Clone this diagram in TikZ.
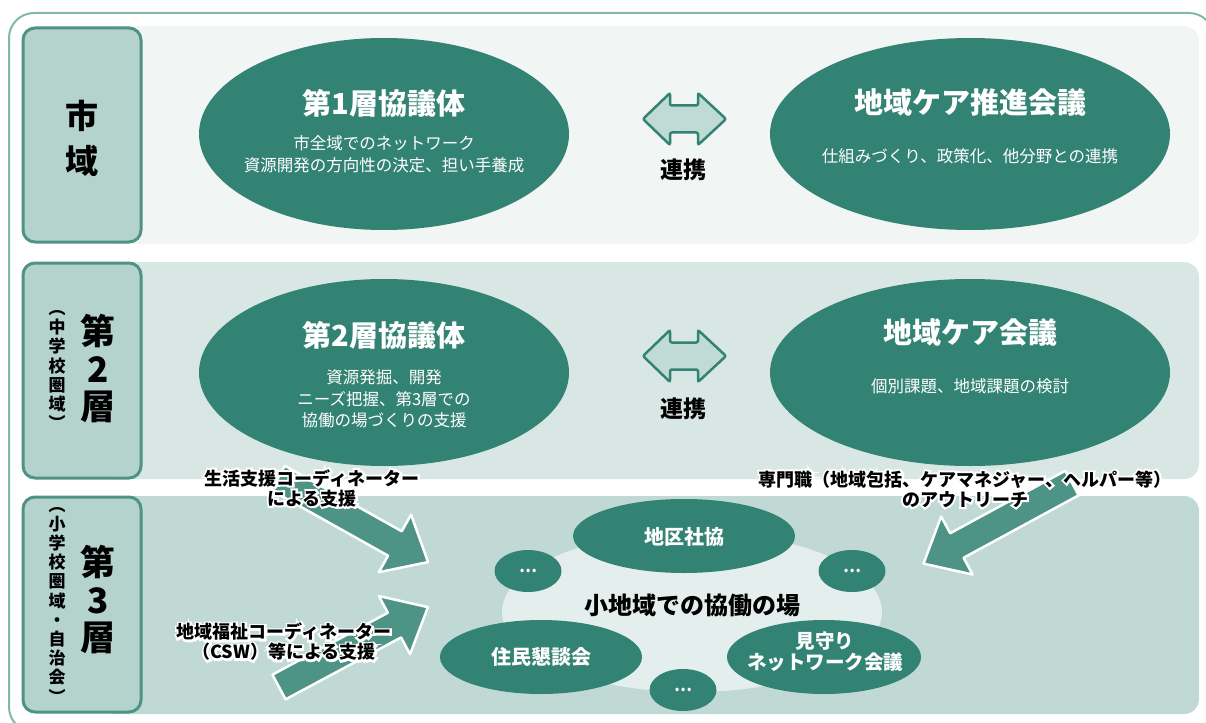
\documentclass[tikz,border=0pt]{standalone}
\usepackage{fontspec}
\setmainfont{Noto Sans CJK JP}
\newfontfamily\halofont{Noto Sans CJK JP}[BoldFeatures={FakeBold=22}]
\usetikzlibrary{calc,shapes.geometric}
\definecolor{dk}{HTML}{338374}
\definecolor{arw}{HTML}{4E9486}
\definecolor{lbf}{HTML}{B5D3CD}
\definecolor{lbd}{HTML}{4F9386}
\definecolor{rowa}{HTML}{F1F5F4}
\definecolor{rowb}{HTML}{D9E7E4}
\definecolor{rowc}{HTML}{C0D9D4}
\definecolor{pale}{HTML}{E4EFED}
\definecolor{frm}{HTML}{7FB8AC}
\definecolor{darf}{HTML}{C0DAD5}
\newcommand{\fs}[2]{\fontsize{#1}{#2}\selectfont}
\newcommand{\halo}[3]{%
  \node[halotxt, text=white, font=\fs{18}{20}\halofont\bfseries] at (#1) {#3};
  \node[halotxt] (#2) at (#1) {#3};}
\tikzset{
  labbox/.style={draw=lbd, fill=lbf, line width=3pt, rounded corners=12pt, minimum width=118pt, inner sep=0},
  ell/.style={ellipse, fill=dk, inner sep=0},
  ttl/.style={text=white, font=\fs{29}{32}\bfseries, inner sep=0},
  sub/.style={text=white, font=\fs{16.5}{21.5}, align=center, inner sep=0},
  wt/.style={text=white, font=\fs{20}{21}\bfseries, align=center, inner sep=0},
  dots/.style={text=white, font=\fs{16}{18}\bfseries, inner sep=0},
  darr/.style={fill=darf, draw=dk, line width=2.5pt, rounded corners=2pt},
  barr/.style={fill=arw, draw=white, line width=2.5pt, line join=round},
  halotxt/.style={font=\fs{18}{20}\bfseries, align=center, inner sep=0},
  bigv/.style={font=\fs{35}{37.5}\bfseries, align=center, inner sep=0},
  smallv/.style={font=\fs{17}{19.2}\bfseries, align=center, inner sep=0},
  lnk/.style={font=\fs{23}{25}\bfseries, inner sep=0}
}
\begin{document}
\begin{tikzpicture}[x=1pt,y=-1pt]
\useasboundingbox (0,0) rectangle (1206,722);
\begin{scope}
  \clip (0,0) rectangle (1206,722);
  \draw[frm, line width=2pt, rounded corners=25pt] (9,13) rectangle (1214,732);
\end{scope}
% row backgrounds
\fill[rowa, rounded corners=15pt] (100,26) rectangle (1199,244);
\fill[rowb, rounded corners=15pt] (100,262) rectangle (1199,479);
\fill[rowc, rounded corners=15pt] (100,496) rectangle (1199,714);
% label boxes
\node[labbox, minimum height=214pt] (box1) at (82,135) {};
\node[labbox, minimum height=215pt] (box2) at (82,370.5) {};
\node[labbox, minimum height=215pt] (box3) at (82,604.5) {};
\node[font=\fs{33}{45}\bfseries, align=center, inner sep=0] (lab1) at (82,138) {市\\域};
\node[bigv] (lab2) at (98,369) {第\\2\\層};
\node[smallv] (lab2s) at (57,370) {︵\\中\\学\\校\\圏\\域\\︶};
\node[bigv] (lab3) at (98,600) {第\\3\\層};
\node[smallv] (lab3s) at (57,605) {︵\\小\\学\\校\\圏\\域\\・\\自\\治\\会\\︶};
% row 1 and 2 ellipses
\node[ell, minimum width=370pt, minimum height=192pt] (e1) at (384,134) {};
\node[ell, minimum width=400pt, minimum height=192pt] (e2) at (970,134) {};
\node[ell, minimum width=370pt, minimum height=187pt] (e3) at (384,372.5) {};
\node[ell, minimum width=400pt, minimum height=187pt] (e4) at (970,372.5) {};
\node[ttl] (e1t) at (384,103) {第1層協議体};
\node[sub] (e1s) at (384,154) {市全域でのネットワーク\\資源開発の方向性の決定、担い手養成};
\node[ttl] (e2t) at (970,102) {地域ケア推進会議};
\node[sub] (e2s) at (970,156) {仕組みづくり、政策化、他分野との連携};
\node[ttl] (e3t) at (384,335) {第2層協議体};
\node[sub] (e3s) at (384,399) {資源発掘、開発\\ニーズ把握、第3層での\\協働の場づくりの支援};
\node[ttl] (e4t) at (970,333) {地域ケア会議};
\node[sub] (e4s) at (970,386) {個別課題、地域課題の検討};
% double arrows
\foreach \yy in {119,356}{
  \draw[darr, shift={(0,\yy)}] (643,0) -- (670,-26) -- (670,-13.5) -- (698,-13.5) -- (698,-26)
    -- (726,0) -- (698,26) -- (698,13.5) -- (670,13.5) -- (670,26) -- cycle;
}
\node[lnk] (lk1) at (683,170) {連携};
\node[lnk] (lk2) at (683,409) {連携};
% row 3 cluster
\node[ellipse, fill=pale, minimum width=380pt, minimum height=160pt, inner sep=0] (pl) at (692,612) {};
\node[font=\fs{24}{26}\bfseries, inner sep=0] (plt) at (692,605) {小地域での協働の場};
\node[ell, minimum width=222pt, minimum height=74pt] (c1) at (684,536) {};
\node[wt] (c1t) at (684,537) {地区社協};
\node[ell, minimum width=67pt, minimum height=42pt] (d1) at (528,571) {};
\node[dots] (d1t) at (d1) {…};
\node[ell, minimum width=67pt, minimum height=42pt] (d2) at (852,571) {};
\node[dots] (d2t) at (d2) {…};
\node[ell, minimum width=202pt, minimum height=74pt] (c2) at (541,657) {};
\node[wt] (c2t) at (541,657) {住民懇談会};
\node[ell, minimum width=194pt, minimum height=74pt] (c3) at (824,657) {};
\node[wt, font=\fs{19.5}{21}\bfseries] (c3t) at (825,652) {見守り\\ネットワーク会議};
\node[ell, minimum width=67pt, minimum height=42pt] (d3) at (683,690) {};
\node[dots] (d3t) at (d3) {…};
% block arrows
\begin{scope}[shift={(278,478)}, rotate=-29.25]
  \draw[barr] (0,-14) -- (134,-14) -- (134,-33) -- (172,0) -- (134,33) -- (134,14) -- (0,14) -- cycle;
\end{scope}
\begin{scope}[shift={(279,687)}, rotate=28.2]
  \draw[barr] (0,-14) -- (131,-14) -- (131,-33) -- (169,0) -- (131,33) -- (131,14) -- (0,14) -- cycle;
\end{scope}
\begin{scope}[shift={(1072,483)}, rotate=-151.5]
  \draw[barr] (0,-14) -- (131,-14) -- (131,-33) -- (169,0) -- (131,33) -- (131,14) -- (0,14) -- cycle;
\end{scope}
% arrow labels
\halo{312,488}{a1}{生活支援コーディネーター\\による支援}
\halo{284,642}{a2}{地域福祉コーディネーター\\（CSW）等による支援}
\halo{965,489}{a3}{専門職（地域包括、ケアマネジャー、ヘルパー等）\\のアウトリーチ}
\end{tikzpicture}
\end{document}
